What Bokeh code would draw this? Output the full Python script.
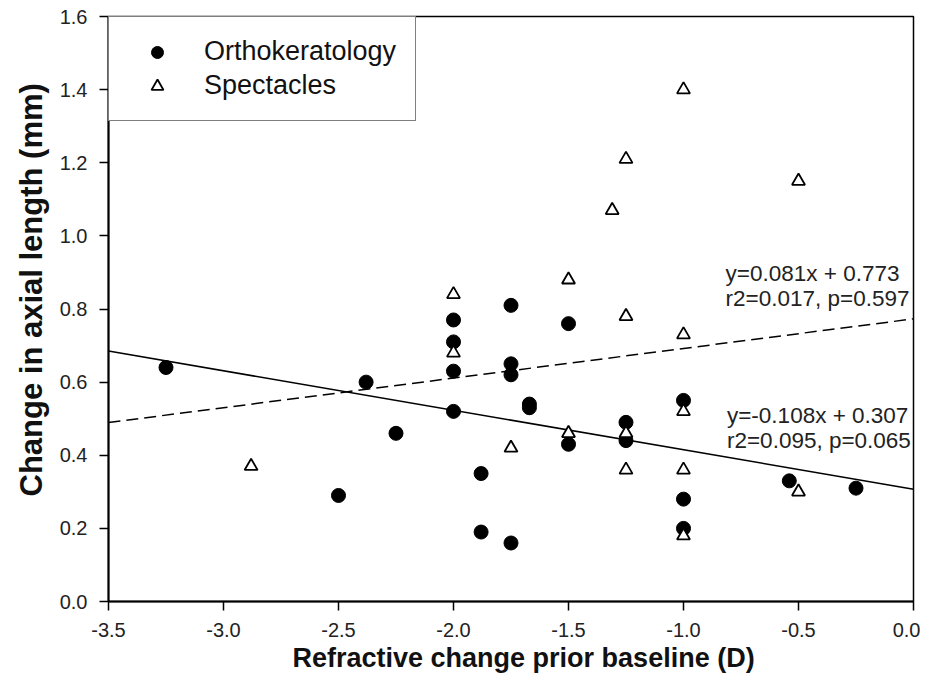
from bokeh.plotting import figure
from bokeh.models import (Legend, LegendItem, FixedTicker, PrintfTickFormatter,
                          Label, Range1d, Title)
from bokeh.embed import file_html
from bokeh.resources import INLINE

# ---- data ----
ortho_x = [-3.25, -2.38, -2.25, -2.5, -2.0, -2.0, -2.0, -2.0, -1.88, -1.88,
           -1.75, -1.75, -1.75, -1.75, -1.67, -1.67, -1.5, -1.5, -1.25, -1.25,
           -1.0, -1.0, -1.0, -0.54, -0.25]
ortho_y = [0.64, 0.60, 0.46, 0.29, 0.77, 0.71, 0.63, 0.52, 0.35, 0.19,
           0.81, 0.65, 0.62, 0.16, 0.54, 0.53, 0.76, 0.43, 0.49, 0.44,
           0.55, 0.28, 0.20, 0.33, 0.31]

spec_x = [-2.88, -2.0, -2.0, -1.75, -1.5, -1.5, -1.31, -1.25, -1.25, -1.25,
          -1.25, -1.0, -1.0, -1.0, -1.0, -1.0, -0.5, -0.5]
spec_y = [0.37, 0.84, 0.68, 0.42, 0.88, 0.46, 1.07, 1.21, 0.78, 0.46,
          0.36, 1.40, 0.73, 0.52, 0.36, 0.18, 1.15, 0.30]

series_names = ["Orthokeratology", "Spectacles"]

fit_slopes = [-0.108, 0.081]          # Orthokeratology, Spectacles
fit_intercepts = [0.307, 0.773]
fit_line1 = ["y=-0.108x + 0.307", "y=0.081x + 0.773"]
fit_line2 = ["r2=0.095, p=0.065", "r2=0.017, p=0.597"]
fit_x_span = [-3.5, 0.0]

x_ticks = [-3.5, -3.0, -2.5, -2.0, -1.5, -1.0, -0.5, 0.0]
y_ticks = [0.0, 0.2, 0.4, 0.6, 0.8, 1.0, 1.2, 1.4, 1.6]

x_title = "Refractive change prior baseline (D)"
y_title = "Change in axial length (mm)"

FONT = "Liberation Sans"

p = figure(frame_width=805, frame_height=585,
           x_range=Range1d(x_ticks[0], x_ticks[-1]),
           y_range=Range1d(y_ticks[0], y_ticks[-1]),
           output_backend="svg", toolbar_location=None,
           min_border_left=108, min_border_right=7,
           min_border_top=16, min_border_bottom=10)
p.xgrid.visible = False
p.ygrid.visible = False
p.outline_line_color = "black"
p.outline_line_width = 1.5
p.outline_line_alpha = 1.0
p.background_fill_color = "white"
p.border_fill_color = "white"

p.xaxis.ticker = FixedTicker(ticks=x_ticks)
p.yaxis.ticker = FixedTicker(ticks=y_ticks)
p.xaxis.formatter = PrintfTickFormatter(format="%.1f")
p.yaxis.formatter = PrintfTickFormatter(format="%.1f")

for ax in (p.xaxis[0], p.yaxis[0]):
    ax.axis_line_width = 2
    ax.axis_line_color = "black"
    ax.major_tick_line_width = 1.5
    ax.major_tick_line_color = "black"
    ax.major_tick_out = 9
    ax.major_tick_in = 0
    ax.minor_tick_out = 0
    ax.minor_tick_in = 0
    ax.major_label_text_font = FONT
    ax.major_label_text_font_size = "20px"
    ax.major_label_text_color = "#222222"
    ax.major_label_standoff = 12

# axis titles as side titles, aligned like the reference
p.add_layout(Title(text=x_title, align="left", offset=184, standoff=2,
                   text_font=FONT, text_font_size="27px",
                   text_font_style="bold", text_color="#111111"), "below")
p.add_layout(Title(text=y_title, align="left", offset=105, standoff=16,
                   text_font=FONT, text_font_size="31px",
                   text_font_style="bold", text_color="#111111"), "left")

# regression lines
dashes = ["solid", "12 6"]
for slope, icpt, dash in zip(fit_slopes, fit_intercepts, dashes):
    ys = [slope * xv + icpt for xv in fit_x_span]
    p.line(fit_x_span, ys, line_color="black", line_width=1.5, line_dash=dash)

r_ortho = p.scatter(ortho_x, ortho_y, marker="circle", size=14,
                    fill_color="black", line_color="black", line_width=1)
r_spec = p.scatter(spec_x, spec_y, marker="triangle", size=13,
                   fill_color="white", line_color="black", line_width=1.8)

legend = Legend(items=[LegendItem(label=series_names[0], renderers=[r_ortho]),
                       LegendItem(label=series_names[1], renderers=[r_spec])],
                location="top_left", margin=0, padding=19,
                glyph_width=58, glyph_height=30, label_height=30,
                label_width=188, label_standoff=18, spacing=3,
                border_line_color="black", border_line_width=1.5,
                background_fill_color="white", background_fill_alpha=1.0,
                label_text_font=FONT, label_text_font_size="27px",
                label_text_color="#111111")
p.add_layout(legend)

# equation annotations (Ortho above solid line, Spectacles above dashed line)
ann_pos = [(-0.811, 0.508, 0.441), (-0.817, 0.898, 0.829)]
for (ax_, y1, y2), t1, t2 in zip(ann_pos, fit_line1, fit_line2):
    for yy, tt in ((y1, t1), (y2, t2)):
        p.add_layout(Label(x=ax_, y=yy, text=tt, text_font=FONT,
                           text_font_size="22.5px", text_color="#222222",
                           text_align="left", text_baseline="middle"))

open("out.html", "w").write(file_html(p, INLINE))
